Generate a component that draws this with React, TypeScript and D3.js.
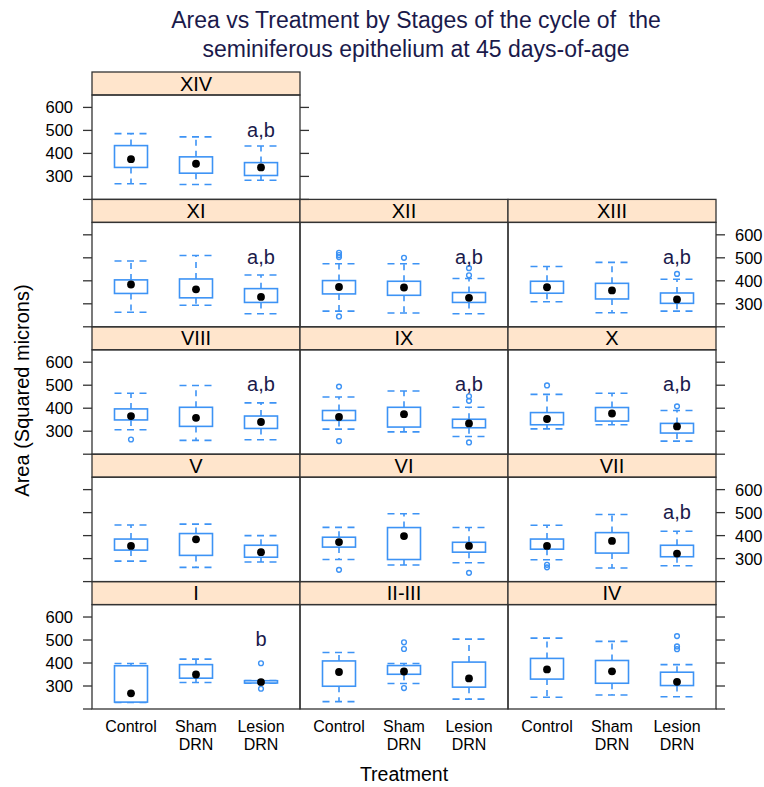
import React from 'react';
import { scaleLinear, scalePoint } from 'd3';

const stages = ['I', 'II-III', 'IV', 'V', 'VI', 'VII', 'VIII', 'IX', 'X', 'XI', 'XII', 'XIII', 'XIV'];
const treatments = ['Control', 'Sham DRN', 'Lesion DRN'];

// one row per stage, one value per treatment
const lowerWhisker = [
	[228, 315, 312], [232, 311, 243], [251, 261, 253], [289, 262, 285], [296, 272, 282],
	[295, 259, 269], [306, 260, 263], [309, 297, 277], [310, 328, 257], [263, 294, 257],
	[268, 260, 257], [309, 261, 268], [268, 265, 283],
];
const q1Values = [
	[230, 334, 313], [299, 351, 295], [330, 312, 302], [337, 314, 306], [350, 296, 328],
	[341, 324, 308], [349, 321, 312], [347, 318, 315], [328, 344, 292], [345, 326, 306],
	[343, 337, 306], [346, 321, 302], [339, 314, 304],
];
const medianValues = [
	[268, 350, 317], [361, 363, 333], [372, 364, 318], [355, 384, 328], [372, 398, 355],
	[355, 377, 322], [366, 358, 340], [362, 374, 334], [353, 377, 321], [384, 363, 330],
	[373, 371, 326], [372, 358, 319], [375, 355, 339],
];
const q3Values = [
	[388, 393, 323], [409, 389, 404], [420, 411, 360], [385, 409, 358], [393, 435, 371],
	[385, 413, 358], [397, 404, 366], [390, 404, 352], [381, 403, 334], [404, 408, 366],
	[401, 398, 349], [398, 389, 347], [434, 385, 360],
];
const upperWhisker = [
	[398, 417, 324], [446, 398, 504], [508, 494, 393], [446, 450, 400], [436, 495, 435],
	[445, 492, 419], [465, 499, 423], [449, 475, 404], [460, 465, 390], [486, 510, 425],
	[474, 474, 410], [462, 480, 407], [486, 472, 432],
];
const outlierValues = [
	[[], [], [399, 288]],
	[[], [490, 461, 291], []],
	[[], [], [517, 472, 460]],
	[[], [], []],
	[[251], [], [238]],
	[[273, 262], [], []],
	[[264], [], []],
	[[494, 257], [], [452, 432, 251]],
	[[499], [], [408]],
	[[], [], []],
	[[522, 512, 503, 245], [500], [455, 424]],
	[[], [], [430]],
	[[], [], []],
];
const letterLabels = ['b', '', '', '', '', 'a,b', 'a,b', 'a,b', 'a,b', 'a,b', 'a,b', 'a,b', 'a,b'];
const letterLevel = 473;

const yTicks = [200, 300, 400, 500, 600];
const yTickLabels = ['', '300', '400', '500', '600'];

const width = 764;
const height = 787;
const left = 92;
const top = 72;
const colW = 208;
const rowH = 127.4;
const stripH = 23;
const panelH = rowH - stripH;
const nRows = 5;
const nCols = 3;

const boxCol = '#3d93f5';
const frameCol = '#333333';
const navy = '#1b1a4b';
const font = 'Liberation Sans, Arial, Helvetica, sans-serif';

const x = scalePoint().domain(treatments).range([0, colW]).padding(0.6);
const y = scaleLinear().domain([200, 654]).range([panelH, 0]);
const boxW = 33;

function Panel({ i }) {
	const row = Math.floor(i / nCols);
	const col = i % nCols;
	const px = left + col * colW;
	const rowTop = top + (nRows - 1 - row) * rowH;
	const py = rowTop + stripH;

	return (
		<g>
			<rect x={px} y={rowTop} width={colW} height={stripH} fill="#ffe5cc" stroke={frameCol} strokeWidth={1.3} />
			<text x={px + colW / 2} y={rowTop + stripH / 2 + 7} textAnchor="middle" fontSize={20}>
				{stages[i]}
			</text>
			<g transform={`translate(${px},${py})`}>
				{treatments.map((t, j) => {
					const cx = x(t);
					const lo = y(lowerWhisker[i][j]);
					const hi = y(upperWhisker[i][j]);
					const b1 = y(q1Values[i][j]);
					const b3 = y(q3Values[i][j]);
					return (
						<g key={t}>
							<line x1={cx} x2={cx} y1={b3} y2={hi} stroke={boxCol} strokeWidth={1.6} strokeDasharray="6,5" />
							<line x1={cx} x2={cx} y1={b1} y2={lo} stroke={boxCol} strokeWidth={1.6} strokeDasharray="6,5" />
							<line x1={cx - boxW / 2} x2={cx + boxW / 2} y1={hi} y2={hi} stroke={boxCol} strokeWidth={1.6} strokeDasharray="7,5.5" />
							<line x1={cx - boxW / 2} x2={cx + boxW / 2} y1={lo} y2={lo} stroke={boxCol} strokeWidth={1.6} strokeDasharray="7,5.5" />
							<rect x={cx - boxW / 2} y={b3} width={boxW} height={Math.max(b1 - b3, 0.5)} fill="white" stroke={boxCol} strokeWidth={1.6} />
							<circle cx={cx} cy={y(medianValues[i][j])} r={3.9} fill="black" />
							{outlierValues[i][j].map((v, k) => (
								<circle key={k} cx={cx} cy={y(v)} r={2.4} fill="none" stroke={boxCol} strokeWidth={1.4} />
							))}
						</g>
					);
				})}
				{letterLabels[i] && (
					<text x={x(treatments[2])} y={y(letterLevel)} textAnchor="middle" fontSize={20} fill={navy}>
						{letterLabels[i]}
					</text>
				)}
			</g>
			<rect x={px} y={py} width={colW} height={panelH} fill="none" stroke={frameCol} strokeWidth={1.3} />
		</g>
	);
}

function YAxis({ row, side, labels }) {
	const py = top + (nRows - 1 - row) * rowH + stripH;
	let ax;
	if (side === 'left') ax = left;
	else ax = row === nRows - 1 ? left + colW : left + nCols * colW;
	const dir = side === 'left' ? -1 : 1;
	return (
		<g transform={`translate(${ax},${py})`}>
			{yTicks.map((v, k) => (
				<g key={v}>
					<line x1={0} x2={dir * 9} y1={y(v)} y2={y(v)} stroke={frameCol} strokeWidth={1.3} />
					{labels && (
						<text
							x={dir * 19}
							y={y(v) + 6}
							textAnchor={side === 'left' ? 'end' : 'start'}
							fontSize={16.5}
						>
							{yTickLabels[k]}
						</text>
					)}
				</g>
			))}
		</g>
	);
}

export default function App() {
	const bottom = top + nRows * rowH;
	return (
		<svg
			width={width}
			height={height}
			style={{ position: 'absolute', left: 0, top: 0, background: 'white' }}
			fontFamily={font}
		>
			<text x={416} y={28} textAnchor="middle" fontSize={23} fill={navy}>
				Area vs Treatment by Stages of the cycle of{'\u00a0\u00a0'}the
			</text>
			<text x={416} y={57} textAnchor="middle" fontSize={23} fill={navy}>
				seminiferous epithelium at 45 days-of-age
			</text>

			{stages.map((s, i) => (
				<Panel key={s} i={i} />
			))}

			{[0, 1, 2, 3, 4].map((r) => (
				<g key={r}>
					<YAxis row={r} side="left" labels={r % 2 === 0} />
					<YAxis row={r} side="right" labels={r % 2 === 1} />
				</g>
			))}

			{[0, 1, 2].map((c) =>
				treatments.map((t) => {
					const parts = t.split(' ');
					return (
						<text key={c + t} x={left + c * colW + x(t)} y={bottom + 23} textAnchor="middle" fontSize={16}>
							{parts.map((p, k) => (
								<tspan key={k} x={left + c * colW + x(t)} dy={k === 0 ? 0 : 18}>
									{p}
								</tspan>
							))}
						</text>
					);
				})
			)}

			<text x={left + (nCols * colW) / 2} y={781} textAnchor="middle" fontSize={19.5}>
				Treatment
			</text>
			<text
				transform={`translate(29,${top + (nRows * rowH) / 2}) rotate(-90)`}
				textAnchor="middle"
				fontSize={20}
			>
				Area (Squared microns)
			</text>
		</svg>
	);
}
